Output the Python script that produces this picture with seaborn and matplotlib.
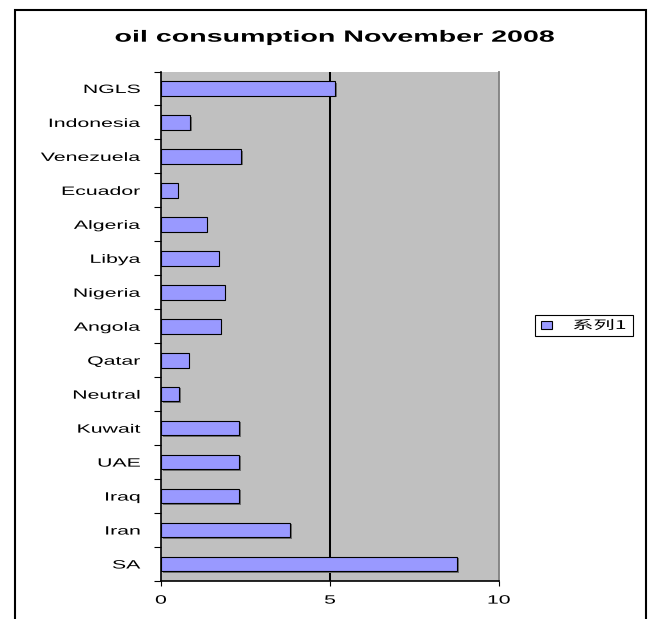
import numpy as np
import pandas as pd
import matplotlib
matplotlib.use("Agg")
import matplotlib.pyplot as plt
import seaborn as sns
from matplotlib.patheffects import AbstractPathEffect, SimplePatchShadow, Normal
from matplotlib.transforms import Affine2D
from matplotlib.patches import Rectangle

# ---- data -------------------------------------------------------------
countries = ["NGLS", "Indonesia", "Venezuela", "Ecuador", "Algeria", "Libya",
             "Nigeria", "Angola", "Qatar", "Neutral", "Kuwait", "UAE", "Iraq",
             "Iran", "SA"]
consumption = [5.16, 0.87, 2.37, 0.49, 1.35, 1.71,
               1.88, 1.77, 0.82, 0.54, 2.32, 2.32, 2.32,
               3.82, 8.77]
x_ticks = [0, 5, 10]
series_label = "系列1"
title = "oil consumption November 2008"

plt.rcParams["font.family"] = ["Liberation Sans", "Noto Sans CJK SC", "DejaVu Sans"]

WIDE = 1.76  # horizontal widening of the lettering


class Widen(AbstractPathEffect):
    """Stretch a drawn path horizontally about an anchor x (display px)."""

    def __init__(self, sx, anchor="center", x0=None):
        super().__init__()
        self.sx = sx
        self.anchor = anchor
        self.x0 = x0

    def draw_path(self, renderer, gc, tpath, affine, rgbFace=None):
        if self.x0 is not None:
            x0 = self.x0() if callable(self.x0) else self.x0
        else:
            ext = affine.transform_path(tpath).get_extents()
            x0 = {"left": ext.x0, "right": ext.x1,
                  "center": 0.5 * (ext.x0 + ext.x1)}[self.anchor]
        stretch = Affine2D().translate(-x0, 0).scale(self.sx, 1).translate(x0, 0)
        renderer.draw_path(gc, tpath, affine + stretch, rgbFace)


W, H = 655, 619
fig = plt.figure(figsize=(W / 100, H / 100), dpi=100)
fig.patch.set_facecolor("white")

# plot area
left, right, top, bottom = 161, 499, 71.5, 581
ax = fig.add_axes([left / W, 1 - bottom / H, (right - left) / W, (bottom - top) / H])
ax.set_facecolor("#C0C0C0")

df = pd.DataFrame({"country": countries, "consumption": consumption})
sns.barplot(data=df, x="consumption", y="country", orient="h",
            color="#9999FF", saturation=1, edgecolor="black", linewidth=0.8,
            width=0.43, label=series_label, ax=ax)

for bar in ax.patches:
    bar.set_path_effects([SimplePatchShadow(offset=(1.1, -1.0),
                                            shadow_rgbFace="#707070", alpha=1),
                          Normal()])

n = len(countries)
ax.set_xlim(x_ticks[0], x_ticks[-1])
ax.set_ylim(n - 0.5, -0.5)
ax.set_xticks(x_ticks)
ax.set_yticks(np.arange(-0.5, n), minor=True)
ax.set_xlabel("")
ax.set_ylabel("")

# vertical gridline at the middle value only
ax.set_axisbelow(True)
ax.xaxis.grid(True, color="black", linewidth=1.45)
for gl, t in zip(ax.get_xgridlines(), ax.get_xticks()):
    if t in (x_ticks[0], x_ticks[-1]):
        gl.set_visible(False)
ax.yaxis.grid(False)

for side in ("left", "bottom"):
    ax.spines[side].set_color("black")
    ax.spines[side].set_linewidth(1.2)
ax.spines["right"].set_color("#808080")
ax.spines["right"].set_linewidth(1.3)
ax.spines["top"].set_visible(False)

ax.tick_params(axis="y", which="major", length=0, pad=14.8,
               labelsize=8.7, labelcolor="black")
ax.tick_params(axis="y", which="minor", length=5.2, width=0.8,
               color="black", direction="out", left=True)
ax.tick_params(axis="x", which="major", length=3.8, width=0.8,
               color="black", direction="out", pad=6.0, labelsize=8.7)

for lab in ax.get_yticklabels():
    lab.set_path_effects([Widen(WIDE, "right")])
for lab in ax.get_xticklabels():
    lab.set_path_effects([Widen(WIDE, "center")])

# title
fig.text(334.5 / W, 1 - 41.7 / H, title, ha="center", va="baseline",
         fontsize=11.7, fontweight="bold", family="Liberation Sans",
         path_effects=[Widen(WIDE, "center")])

# legend
leg = ax.legend(loc="center left", bbox_to_anchor=(535 / W, 1 - 325.5 / H),
                bbox_transform=fig.transFigure, borderaxespad=0,
                fontsize=8.7, frameon=True, fancybox=False, framealpha=1,
                borderpad=0.3, handlelength=0.5, handleheight=0.6,
                handletextpad=0.95)
frame = leg.get_frame()
frame.set_edgecolor("black")
frame.set_linewidth(0.8)


def legend_left():
    return frame.get_x()


frame.set_path_effects([Widen(WIDE, x0=legend_left)])
for h in leg.legend_handles:
    h.set_edgecolor("black")
    h.set_linewidth(0.8)
    h.set_path_effects([Widen(WIDE, x0=legend_left)])
for t in leg.get_texts():
    t.set_family(["Noto Sans CJK SC", "Liberation Sans"])
    t.set_path_effects([Widen(WIDE, x0=legend_left)])

# chart border
fig.add_artist(Rectangle((15 / W, -0.1), (646 - 15) / W, 1.1 - 10 / H,
                         transform=fig.transFigure, fill=False,
                         edgecolor="black", linewidth=1.5))

fig.savefig("out.png", dpi=100)
